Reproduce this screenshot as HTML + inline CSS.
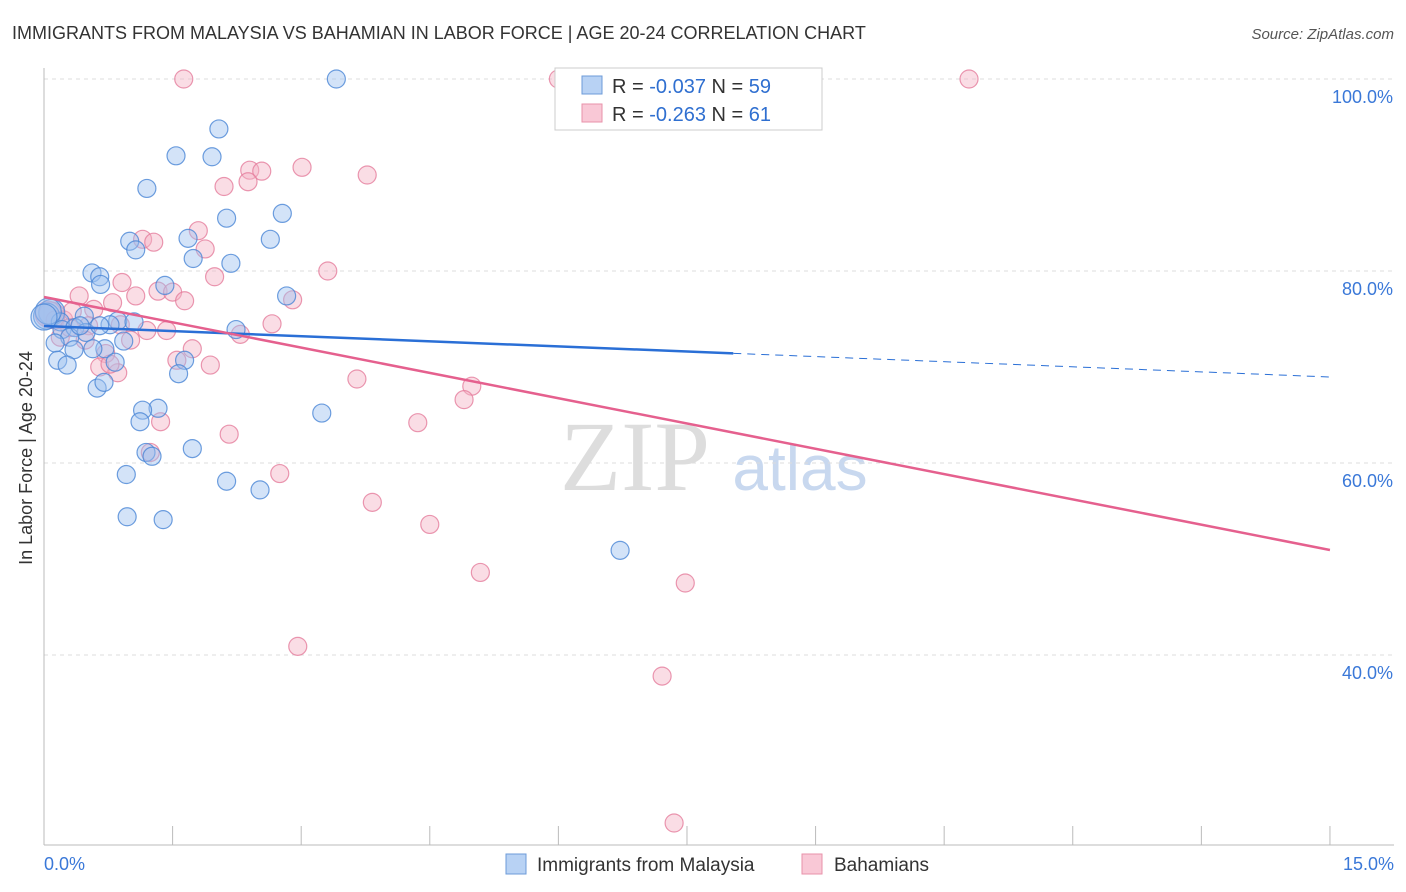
<!DOCTYPE html>
<html><head><meta charset="utf-8"><style>
body{margin:0;background:#fff;font-family:"Liberation Sans",sans-serif}
svg{display:block}
</style></head><body>
<svg id="c" width="1406" height="892">
<text x="12" y="39" font-size="18" fill="#333">IMMIGRANTS FROM MALAYSIA VS BAHAMIAN IN LABOR FORCE | AGE 20-24 CORRELATION CHART</text>
<text x="1394" y="39" font-size="15" fill="#555" font-style="italic" text-anchor="end">Source: ZipAtlas.com</text>
<text x="32" y="458" font-size="18" fill="#333" text-anchor="middle" transform="rotate(-90 32 458)">In Labor Force | Age 20-24</text>
<text x="635" y="490" font-size="100" fill="#ddd" font-family="Liberation Serif,serif" text-anchor="middle">ZIP</text>
<text x="800" y="490" font-size="64" fill="#c8d8ef" text-anchor="middle">atlas</text>
<g id="grid"></g><g id="pts"></g><g id="lines"></g>
<g>
<rect x="555" y="68" width="267" height="62" fill="#fff" stroke="#ccc"/>
<rect x="582" y="76" width="20" height="18" fill="#b8d2f4" stroke="#6d9bd8"/>
<rect x="582" y="104" width="20" height="18" fill="#f9c8d6" stroke="#e892aa"/>
<text x="612" y="93" font-size="20" fill="#333">R = <tspan fill="#2f6fd0">-0.037</tspan>   N = <tspan fill="#2f6fd0">59</tspan></text>
<text x="612" y="121" font-size="20" fill="#333">R = <tspan fill="#2f6fd0">-0.263</tspan>   N =  <tspan fill="#2f6fd0">61</tspan></text>
</g>
<g>
<rect x="506" y="854" width="20" height="20" fill="#b8d2f4" stroke="#6d9bd8"/>
<text x="537" y="871" font-size="19" fill="#333">Immigrants from Malaysia</text>
<rect x="802" y="854" width="20" height="20" fill="#f9c8d6" stroke="#e892aa"/>
<text x="834" y="871" font-size="19" fill="#333">Bahamians</text>
</g>
</svg>
<script>
const blueX=[3.41,2.04,1.54,1.96,1.20,2.13,2.78,1.00,1.68,1.07,2.64,0.56,0.65,1.74,2.18,0.66,1.41,2.83,0.09,0.03,0.19,0.47,0.86,1.05,0.77,0.21,0.36,0.49,2.24,0.93,0.30,0.13,0.71,0.35,0.57,1.64,0.16,0.27,0.83,1.57,0.62,0.70,1.33,1.15,3.24,1.12,1.19,1.26,1.73,0.96,2.13,2.52,0.97,1.39,6.72,0.05,0.00,0.42,0.65];
const blueY=[100,94.8,92.0,91.9,88.6,85.5,86.0,83.1,83.4,82.2,83.3,79.8,79.4,81.3,80.8,78.6,78.5,77.4,75.7,75.3,74.7,75.3,74.8,74.7,74.4,73.9,74.1,73.6,73.9,72.7,73.1,72.5,71.9,71.8,71.9,70.7,70.7,70.2,70.5,69.3,67.8,68.4,65.7,65.5,65.2,64.3,61.1,60.7,61.5,58.8,58.1,57.2,54.4,54.1,50.9,75.8,75.2,74.3,74.3];
const pinkX=[1.63,6.00,10.79,2.40,2.54,3.01,3.77,2.38,2.10,1.80,1.15,1.28,1.88,3.31,1.99,0.91,1.33,0.41,1.07,1.50,1.64,0.80,0.58,2.90,0.09,0.23,0.52,1.20,1.43,2.66,2.29,1.01,0.19,0.72,1.73,1.55,0.65,1.94,0.86,3.65,4.99,4.90,1.36,4.36,2.16,1.24,2.75,3.83,4.50,5.09,7.48,2.96,7.21,7.35,0.05,0.13,0.30,0.89,0.48,0.33,0.77];
const pinkY=[100,100,100,90.5,90.4,90.8,90.0,89.3,88.8,84.2,83.3,83.0,82.3,80.0,79.4,78.8,77.9,77.4,77.4,77.8,76.9,76.7,76.0,77.0,75.4,74.9,74.3,73.8,73.8,74.5,73.4,72.8,73.1,71.4,71.9,70.7,70.0,70.2,69.4,68.75,68.0,66.6,64.3,64.2,63.0,61.1,58.9,55.9,53.6,48.6,47.5,40.9,37.8,22.5,75.5,74.9,74.1,74.4,72.8,75.8,70.3];
const blueTrend=[74.27,68.96], blueSolidEnd=8.04;
const pinkTrend=[77.29,50.94];
const yTicks=[100,80,60,40];
const xTickVals=[0,1.5,3,4.5,6,7.5,9,10.5,12,13.5,15];
const sx=v=>44+v*85.73, sy=v=>79+(100-v)*9.6;
const NS='http://www.w3.org/2000/svg';
function mk(tag,attrs,parent){const e=document.createElementNS(NS,tag);for(const k in attrs)e.setAttribute(k,attrs[k]);parent.appendChild(e);return e;}
const grid=document.getElementById('grid'),pts=document.getElementById('pts'),lines=document.getElementById('lines');
yTicks.forEach(t=>{
 const l=mk('line',{x1:44,x2:1394,y1:sy(t),y2:sy(t),stroke:'#ddd','stroke-dasharray':'4,4'},grid);
 
 
 const tx=mk('text',{x:1393,y:sy(t)+24,'font-size':18,fill:'#3a78d8','text-anchor':'end'},grid);
 tx.textContent=t.toFixed(1)+'%';
 
 
});
const ax=mk('line',{x1:44,x2:44,y1:68,y2:845,stroke:'#bbb'},grid);


const bx=mk('line',{x1:44,x2:1394,y1:845,y2:845,stroke:'#bbb'},grid);


xTickVals.forEach(t=>{
 const l=mk('line',{x1:sx(t),x2:sx(t),y1:826,y2:845,stroke:'#bbb'},grid);
 
 
});
[[0,'start'],[15,'end']].forEach(([t,a])=>{
 const tx=mk('text',{x:t===0?44:1394,y:870,'font-size':18,fill:'#3a78d8','text-anchor':a},grid);
 tx.textContent=t.toFixed(1)+'%';
 
 
});
function dots(X,Y,fill,stroke,name){
 X.forEach((x,i)=>{
  const r=(x<0.1&&Math.abs(Y[i]-75.5)<0.5)?13:9;
  const c=mk('circle',{cx:sx(x),cy:sy(Y[i]),r:r,fill:fill,'fill-opacity':0.45,stroke:stroke,'stroke-opacity':0.8,'stroke-width':1.2},pts);
  
  
 });
}
dots(pinkX,pinkY,'#f4b3c6','#e57d9c','point-bahamians');
dots(blueX,blueY,'#9ec2ef','#4a86d6','point-malaysia');
const bf=v=>blueTrend[0]+(blueTrend[1]-blueTrend[0])*v/15;
const l1=mk('line',{x1:sx(0),y1:sy(bf(0)),x2:sx(blueSolidEnd),y2:sy(bf(blueSolidEnd)),stroke:'#2a6fd6','stroke-width':2.5},lines);


const l2=mk('line',{x1:sx(blueSolidEnd),y1:sy(bf(blueSolidEnd)),x2:sx(15),y2:sy(bf(15)),stroke:'#2a6fd6','stroke-width':1,'stroke-dasharray':'8,6'},lines);


const l3=mk('line',{x1:sx(0),y1:sy(pinkTrend[0]),x2:sx(15),y2:sy(pinkTrend[1]),stroke:'#e5608e','stroke-width':2.5},lines);


</script>
</body></html>
